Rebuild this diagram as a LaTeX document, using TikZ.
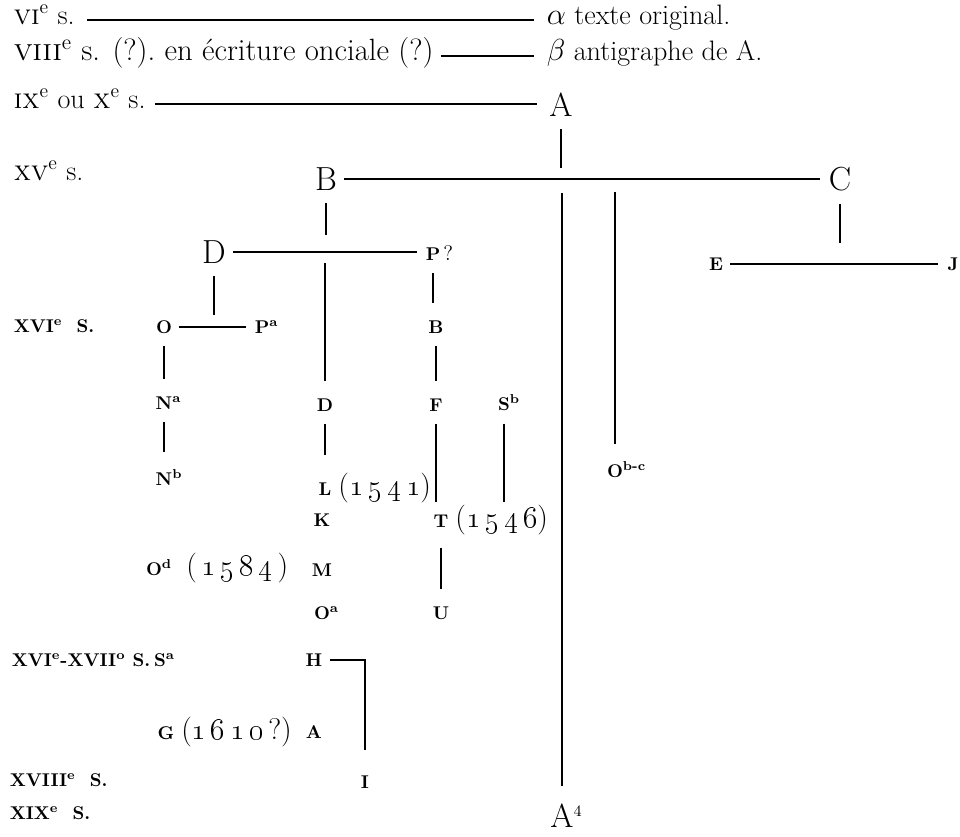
\documentclass[tikz,border=0pt]{standalone}
\usepackage{tikz}
\usetikzlibrary{positioning, calc}

\tikzset{
  txt/.style={font=\fontsize{16}{19}\selectfont, inner sep=2pt, text height=1.6ex, text depth=.4ex},
  big/.style={font=\fontsize{19}{22}\selectfont, inner sep=2pt},
  ms/.style={font=\fontsize{10.5}{12}\selectfont\bfseries, inner sep=2pt},
  hlink/.style={line width=0.6pt, shorten <=2pt, shorten >=3pt},
  vlink/.style={line width=0.6pt, shorten <=5pt, shorten >=8pt},
  drop/.style={line width=0.6pt, shorten >=8pt},
  stub/.style={line width=0.6pt, shorten <=5pt},
}
\newcommand{\yr}[2][]{{\mdseries\fontsize{17}{20}\selectfont(\oldstylenums{#2}#1)}}

\begin{document}
\begin{tikzpicture}[x=0.02cm, y=-0.02cm]
\useasboundingbox (0,0) rectangle (960,837);

% siecles
\node[txt, anchor=west] (r1) at (10,20) {\textsc{vi}\textsuperscript{e} s.};
\node[txt, anchor=west, font=\fontsize{17.5}{20}\selectfont] (r2) at (10,56) {\textsc{viii}\textsuperscript{e} s. (?).\ en écriture onciale (?)};
\node[txt, anchor=west] (r3) at (10,104) {\textsc{ix}\textsuperscript{e} ou \textsc{x}\textsuperscript{e} s.};
\node[txt, anchor=west] (r4) at (10,176) {\textsc{xv}\textsuperscript{e} s.};
\node[ms, anchor=west] (r5) at (10,326) {XVI\textsuperscript{e}\ \ S.};
\node[ms, anchor=west] (r6) at (8,660) {XVI\textsuperscript{e}-XVII\textsuperscript{o} S.};
\node[ms, anchor=west] (r7) at (6,780) {XVIII\textsuperscript{e}\ \ S.};
\node[ms, anchor=west] (r8) at (6,813) {XIX\textsuperscript{e}\ \ S.};

% archetype
\node[txt, anchor=west] (alpha) at (543,20) {$\alpha$ texte original.};
\node[txt, anchor=west] (beta) at (543,56) {$\beta$ antigraphe de A.};
\node[big] (A) at (561,105) {A};
\draw[hlink, shorten <=5pt, shorten >=5pt] (r1.east) -- (r1.east -| alpha.west);
\draw[hlink, shorten <=2pt, shorten >=5pt] (r2.east) -- (r2.east -| beta.west);
\draw[hlink, shorten <=3pt, shorten >=5pt] (r3.east) -- (r3.east -| A.west);

% manuscrits
\node[big] (B) at (326,179) {B};
\node[big] (C) at (840,179) {C};
\node[big] (D) at (214,252) {D};
\node[ms] (p) at (433,253) {P\rlap{\,{\mdseries\large ?}}};
\node[ms] (E) at (716,264) {E};
\node[ms] (J) at (953,264) {J};
\coordinate (a1) at (561,168);
\coordinate (b1) at (326,235);
\coordinate (c1) at (840,243);
\coordinate (bc1) at (562,193);
\coordinate (bc2) at (615,192);
\coordinate (dp) at (325,263);
\draw[stub] (A) -- (a1);
\draw[hlink] (B.east) -- (B.east -| C.west);
\draw[stub] (B) -- (b1);
\draw[stub] (C) -- (c1);
\draw[hlink] (E.east) -- (E.east -| J.west);
\draw[hlink] (D.east) -- (D.east -| p.west);

% XVIe s.
\node[ms] (O) at (164,327) {O};
\node[ms] (Po) at (262,327) {P\rlap{\textsuperscript{a}}};
\node[ms] (Bs) at (436,327) {B};
\node[ms] (Na) at (164,403) {N\rlap{\textsuperscript{a}}};
\node[ms] (Dd) at (325,405) {D};
\node[ms] (F) at (436,405) {F};
\node[ms] (Sb) at (504,403) {S\rlap{\textsuperscript{b}}};
\node[ms] (Obc) at (615,470) {O\rlap{\textsuperscript{b-c}}};
\node[ms] (Nb) at (164,478) {N\rlap{\textsuperscript{b}}};
\node[ms] (L) at (325,488) {L\rlap{\ \yr{1\,5\,4\,1}}};
\node[ms] (K) at (322,520) {K};
\node[ms] (T) at (441,520) {T\rlap{\ \yr{1\,5\,4\,6}}};
\node[ms] (Od) at (154,568) {O\rlap{\textsuperscript{d}\ \ \yr{\,1\,5\,8\,4\,}}};
\node[ms] (M) at (322,570) {M};
\node[ms] (Oa) at (322,613) {O\rlap{\textsuperscript{a}}};
\node[ms] (U) at (441,613) {U};
\coordinate (d1) at (214,315);
\coordinate (p1) at (433,303);
\coordinate (f1) at (436,502);
\coordinate (s1) at (504,502);
\draw[stub] (D) -- (d1);
\draw[stub] (p) -- (p1);
\draw[hlink] (O.east) -- (O.east -| Po.west);
\draw[drop] (dp) -- (Dd);
\draw[vlink] (Bs) -- (F);
\draw[vlink] (O) -- (Na);
\draw[vlink] (Na) -- (Nb);
\draw[vlink] (Dd) -- (L);
\draw[stub] (F) -- (f1);
\draw[stub] (Sb) -- (s1);
\draw[vlink] (T) -- (U);
\draw[drop] (bc2) -- (Obc);
\node[big] (A4) at (562,816) {A\rlap{\textsuperscript{\small 4}}};
\draw[drop] (bc1) -- (A4);

% XVIIe - XIXe s.
\node[ms] (Sa) at (160,660) {S\rlap{\textsuperscript{a}}};
\node[ms] (H) at (314,660) {H};
\node[ms] (G) at (166,732) {G\rlap{\ \yr[\,?]{1\,6\,1\,0}}};
\node[ms] (As) at (314,732) {A};
\node[ms] (I) at (365,782) {I};
\coordinate (i1) at (365,755);
\draw[hlink] (H.east) -| (i1);
\end{tikzpicture}
\end{document}
